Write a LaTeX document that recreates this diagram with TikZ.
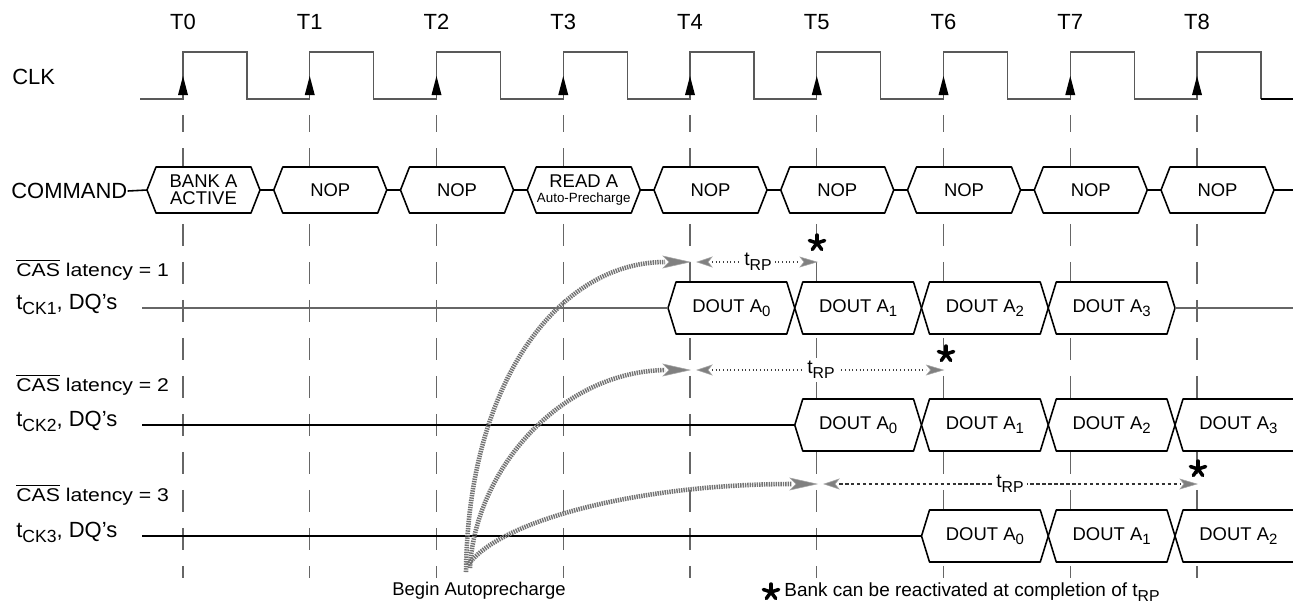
\documentclass[tikz,border=0pt]{standalone}
\usepackage{fontspec}
\setmainfont{Liberation Sans}
\newfontfamily\widefont[FakeStretch=1.15]{Liberation Sans}
\newcommand\fs[1]{\fontsize{#1}{#1}\selectfont}
\newcommand\lowsub[2]{\raisebox{-0.45ex}{\fs{#1}#2}}
\begin{document}
\begin{tikzpicture}[x=0.02cm,y=-0.02cm,
  grid/.style={black!60, line width=0.6pt, dash pattern=on 0.44cm off 0.32cm, dash phase=0.1cm},
  clk/.style={black!65, line width=0.7pt},
  boxline/.style={black, line width=0.9pt, fill=white, line join=round},
  conn/.style={black, line width=0.9pt},
  lbl/.style={inner sep=0pt, font=\fs{12.5}},
  boxtxt/.style={inner sep=0pt, font=\fs{10.5}, align=center},
  rowgray/.style={black!60, line width=0.7pt},
  rowblack/.style={black, line width=1pt},
  apc/.style={black!55, line width=2.6pt, dash pattern=on 0.8pt off 0.55pt},
  apchead/.style={fill=black!50, draw=black!35, line width=0.3pt},
  trpdot/.style={black!75, line width=0.6pt, dash pattern=on 0.5pt off 1.6pt},
  trpdash/.style={black!80, line width=0.6pt, dash pattern=on 2pt off 1.4pt},
  trplbl/.style={fill=white, inner sep=2pt, font=\fs{11}},
  astx/.pic={\foreach \a in {90,162,234,306,18}{\draw[black, line width=2pt, line cap=round] (0,0) -- ++(\a:0.16cm);}}
]
\useasboundingbox (0,0) rectangle (1293,603);

% time grid and T labels
\foreach \k in {0,...,8}{
  \pgfmathsetmacro\tx{183+126.75*\k}
  \coordinate (T\k) at (\tx,0);
  \draw[grid] (\tx,115) -- (\tx,578);
  \node[lbl, anchor=base] (tl\k) at (\tx,29) {T\k};
}

% clock
\node[lbl, anchor=base west] (clk) at (12,84) {CLK};
\draw[clk] (140,99) \foreach \k in {0,...,8}{ -- ({183+126.75*\k},99) -- ({183+126.75*\k},52) -- ({247+126.75*\k},52) -- ({247+126.75*\k},99)} -- (1261,99);
\draw[black, line width=1.1pt] (1261,99) -- (1293,99);
\foreach \k in {0,...,8}{
  \pgfmathsetmacro\tx{183+126.75*\k}
  \fill[black] (\tx,76) -- (\tx-5,95) -- (\tx+5,95) -- cycle;
}

% command row
\node[lbl, anchor=west] (cmdlabel) at (11,191) {COMMAND};
\foreach \k/\txt in {0/{BANK A\\[-1pt]ACTIVE},1/NOP,2/NOP,3/{READ A\\[-2pt]{\fs{7.6}Auto-Precharge}},4/NOP,5/NOP,6/NOP,7/NOP,8/NOP}{
  \pgfmathsetmacro\L{183+126.75*\k-36}
  \pgfmathsetmacro\R{\L+113}
  \draw[boxline] (\L,190) -- (\L+9,167) -- (\R-9,167) -- (\R,190) -- (\R-9,213) -- (\L+9,213) -- cycle;
  \coordinate (cl\k) at (\L,190);
  \coordinate (cr\k) at (\R,190);
  \node[boxtxt] (cmd\k) at ({(\L+\R)/2},190) {\txt};
}
\coordinate (cmdend) at (1293,190);
\draw[conn] (cmdlabel.east) -- (cl0);
\foreach \k in {0,...,7}{
  \pgfmathtruncatemacro\n{\k+1}
  \draw[conn] (cr\k) -- (cl\n);
}
\draw[conn] (cr8) -- (cmdend);

% row labels
\foreach \r/\y/\yb in {1/308/276,2/425/391,3/536/501}{
  \node[anchor=base west, inner sep=0pt, font=\widefont\fs{10.5}] (cas\r) at (16,\yb) {$\overline{\mbox{CAS}}$ latency = \r};
  \node[lbl, anchor=base west] (dq\r) at (16,\y+1) {t\lowsub{10}{CK\r}, DQ's};
  \coordinate (rs\r) at (142,\y);
}

% data boxes
\newcommand\dbox[5]{%
  \draw[boxline] (#2,#4) -- (#2+8,#4-26) -- (#3-8,#4-26) -- (#3,#4) -- (#3-8,#4+26) -- (#2+8,#4+26) -- cycle;
  \node[boxtxt] (#1) at ({(#2+#3)/2},#4) {#5};}
% row 1
\foreach \i in {0,...,3}{
  \pgfmathsetmacro\a{183+126.75*(4+\i)-22}
  \pgfmathsetmacro\b{\a+126.75}
  \dbox{ra\i}{\a}{\b}{308}{DOUT A\lowsub{8.5}{\i}}
}
\coordinate (r1l) at (668,308);
\coordinate (r1r) at (1175,308);
\coordinate (r1e) at (1293,308);
\draw[rowgray] (rs1) -- (r1l);
\draw[rowgray] (r1r) -- (r1e);
% row 2
\foreach \i in {0,...,3}{
  \pgfmathsetmacro\a{183+126.75*(5+\i)-22}
  \pgfmathsetmacro\b{\a+126.75}
  \dbox{rb\i}{\a}{\b}{425}{DOUT A\lowsub{8.5}{\i}}
}
\coordinate (r2l) at (794.75,425);
\draw[rowblack] (rs2) -- (r2l);
% row 3
\foreach \i in {0,...,2}{
  \pgfmathsetmacro\a{183+126.75*(6+\i)-22}
  \pgfmathsetmacro\b{\a+126.75}
  \dbox{rc\i}{\a}{\b}{536}{DOUT A\lowsub{8.5}{\i}}
}
\coordinate (r3l) at (921.5,536);
\draw[rowblack] (rs3) -- (r3l);

% autoprecharge curves
\coordinate (s1) at (466,572);
\coordinate (s2) at (470,568);
\coordinate (s3) at (468,565);
\coordinate (e1) at (665,262);
\coordinate (e2) at (665,370);
\coordinate (e3) at (792,484);
\draw[apc] (s1) .. controls (468,380) and (560,262) .. (e1);
\draw[apc] (s2) .. controls (475,470) and (560,372) .. (e2);
\draw[apc] (s3) .. controls (500,520) and (640,484) .. (e3);
% big heads
\foreach \x/\y in {690/262,690/370,817/484}{
  \fill[apchead] (\x,\y) -- (\x-27,\y-6) -- (\x-21,\y) -- (\x-27,\y+6) -- cycle;
}

% tRP dimension lines
\coordinate (p1a) at (712,262); \coordinate (p1b) at (800,262);
\coordinate (p2a) at (712,370); \coordinate (p2b) at (926,370);
\coordinate (p3a) at (839,484); \coordinate (p3b) at (1180,484);
\draw[trpdot] (p1a) -- (p1b);
\draw[trpdot] (p2a) -- (p2b);
\draw[trpdash] (p3a) -- (p3b);
\foreach \x/\y in {697/262,697/370,824/484}{
  \fill[apchead] (\x,\y) -- (\x+15,\y-5) -- (\x+11,\y) -- (\x+15,\y+5) -- cycle;
}
\foreach \x/\y in {817/262,943.5/370,1197/484}{
  \fill[apchead] (\x,\y) -- (\x-17,\y-5) -- (\x-13,\y) -- (\x-17,\y+5) -- cycle;
}
\node[trplbl] (trp1) at (758,262) {t\lowsub{9}{RP}};
\node[trplbl] (trp2) at (821,370) {t\lowsub{9}{RP}};
\node[trplbl] (trp3) at (1010,484) {t\lowsub{9}{RP}};

% stars
\pic (st1) at (817,243) {astx};
\pic (st2) at (946,354) {astx};
\pic (st3) at (1198,469) {astx};

% bottom notes
\node[inner sep=0pt, font=\fs{10.5}] (bap) at (479,591) {Begin Autoprecharge};
\pic (st4) at (771,592) {astx};
\node[inner sep=0pt, anchor=west, font=\fs{10.8}] (note) at (784,592) {Bank can be reactivated at completion of t\lowsub{9}{RP}};
\end{tikzpicture}
\end{document}
